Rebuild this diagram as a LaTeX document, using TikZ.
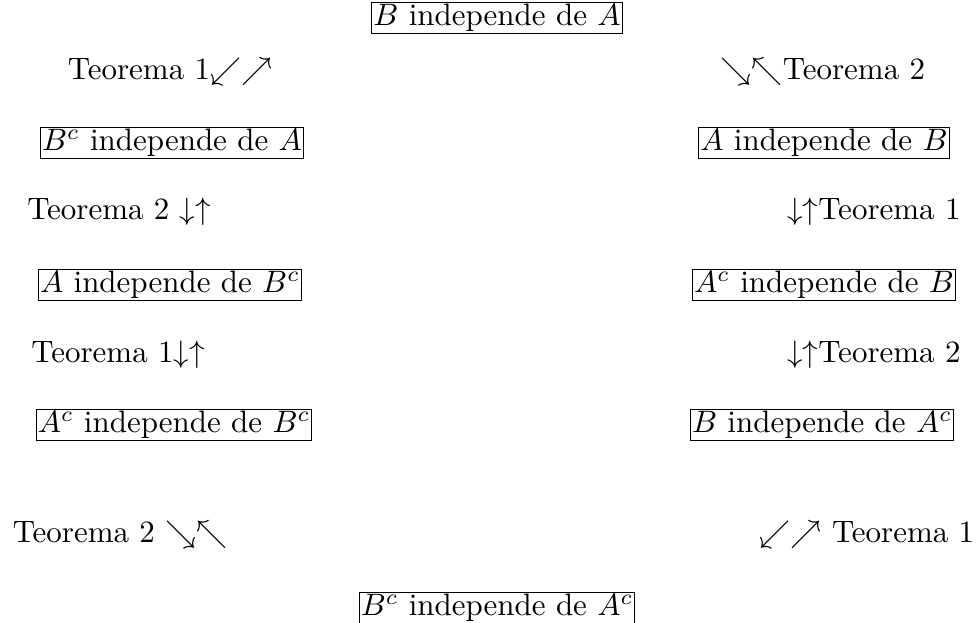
\documentclass[tikz,border=0pt]{standalone}
\usepackage{amsmath,amssymb}
\begin{document}
\begin{tikzpicture}[x=0.3226pt,y=-0.3226pt,
  box/.style={draw,line width=0.4pt,inner sep=0.5pt,outer sep=0pt},
  lbl/.style={inner sep=0pt}]
\useasboundingbox (0,0) rectangle (978,623);
\node[box] (n1) at (497,18) {$B$ independe de $A$};
\node[lbl] (t1) at (170,72) {Teorema 1$\swarrow\nearrow$};
\node[lbl] (t2) at (823,72) {$\searrow\nwarrow$Teorema 2};
\node[box] (n2) at (172,143) {$B^c$ independe de $A$};
\node[box] (n3) at (824,143) {$A$ independe de $B$};
\node[lbl] (t3) at (119,212) {Teorema 2 $\downarrow\uparrow$};
\node[lbl] (t4) at (874,212) {$\downarrow\uparrow$Teorema 1};
\node[box] (n4) at (170,285) {$A$ independe de $B^c$};
\node[box] (n5) at (824,285) {$A^c$ independe de $B$};
\node[lbl] (t5) at (118,355) {Teorema 1$\downarrow\uparrow$};
\node[lbl] (t6) at (874,355) {$\downarrow\uparrow$Teorema 2};
\node[box] (n6) at (174,425) {$A^c$ independe de $B^c$};
\node[box] (n7) at (822,425) {$B$ independe de $A^c$};
\node[lbl] (t7) at (120,535) {Teorema 2 $\searrow\nwarrow$};
\node[lbl] (t8) at (867,535) {$\swarrow\nearrow$ Teorema 1};
\node[box] (n8) at (497,608) {$B^c$ independe de $A^c$};
\end{tikzpicture}
\end{document}
